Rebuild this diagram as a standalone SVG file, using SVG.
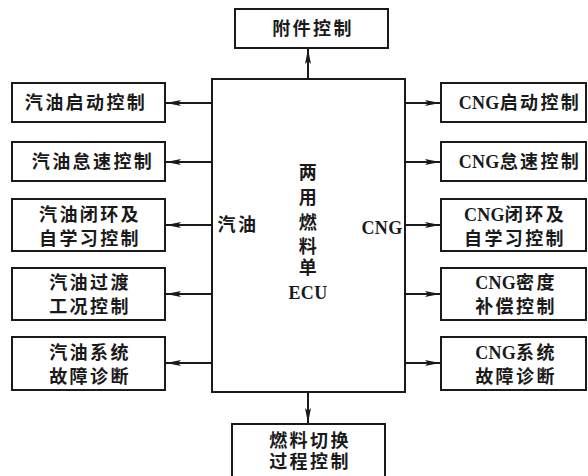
<svg xmlns="http://www.w3.org/2000/svg" width="588" height="476" viewBox="0 0 588 476">
<style>
.box{fill:#fff;stroke:#1a1a1a;stroke-width:2}
.ln{fill:none;stroke:#1a1a1a;stroke-width:2}
text{font-family:"Liberation Serif","Noto Sans CJK SC",serif;font-size:18px;font-weight:bold;fill:#1a1a1a;text-anchor:middle;letter-spacing:2.4px}
.lat{letter-spacing:0.3px}
</style>
<defs>
<marker id="ah" markerWidth="16" markerHeight="8" refX="15" refY="4" orient="auto" markerUnits="userSpaceOnUse">
<path d="M0,1 L15,4 L0,7 L3,4 Z" fill="#1a1a1a"/>
</marker>
</defs>
<g id="connectors">
<line class="ln" x1="308" y1="79" x2="308" y2="49" marker-end="url(#ah)"/>
<line class="ln" x1="308" y1="392" x2="308" y2="423" marker-end="url(#ah)"/>
<line class="ln" x1="212" y1="103" x2="166" y2="103" marker-end="url(#ah)"/>
<line class="ln" x1="212" y1="162" x2="166" y2="162" marker-end="url(#ah)"/>
<line class="ln" x1="212" y1="225" x2="166" y2="225" marker-end="url(#ah)"/>
<line class="ln" x1="212" y1="294" x2="166" y2="294" marker-end="url(#ah)"/>
<line class="ln" x1="212" y1="363" x2="166" y2="363" marker-end="url(#ah)"/>
<line class="ln" x1="405" y1="103" x2="440" y2="103" marker-end="url(#ah)"/>
<line class="ln" x1="405" y1="162" x2="440" y2="162" marker-end="url(#ah)"/>
<line class="ln" x1="405" y1="225" x2="440" y2="225" marker-end="url(#ah)"/>
<line class="ln" x1="405" y1="294" x2="440" y2="294" marker-end="url(#ah)"/>
<line class="ln" x1="405" y1="363" x2="440" y2="363" marker-end="url(#ah)"/>
</g>
<g id="ecu">
<rect class="box" x="212" y="79" width="193" height="313"/>
<text x="309" y="179">两</text>
<text x="309" y="204">用</text>
<text x="309" y="229">燃</text>
<text x="309" y="253">料</text>
<text x="309" y="274">单</text>
<text x="308" y="299" class="lat">ECU</text>
<text x="238" y="231">汽油</text>
<text x="382" y="234" class="lat">CNG</text>
</g>
<g id="fujian">
<rect class="box" x="235" y="9" width="153" height="39"/>
<text x="313" y="35">附件控制</text>
</g>
<g id="qiehuan">
<rect class="box" x="232" y="424" width="153" height="60"/>
<text x="310" y="447">燃料切换</text>
<text x="310" y="468">过程控制</text>
</g>
<g id="g1">
<rect class="box" x="12" y="83" width="153" height="39"/>
<text x="86" y="109">汽油启动控制</text>
</g>
<g id="g2">
<rect class="box" x="12" y="142" width="153" height="39"/>
<text x="93" y="168">汽油怠速控制</text>
</g>
<g id="g3">
<rect class="box" x="12" y="199" width="153" height="52"/>
<text x="90" y="221">汽油闭环及</text>
<text x="90" y="245">自学习控制</text>
</g>
<g id="g4">
<rect class="box" x="12" y="268" width="153" height="52"/>
<text x="90" y="289">汽油过渡</text>
<text x="90" y="313">工况控制</text>
</g>
<g id="g5">
<rect class="box" x="12" y="337" width="153" height="53"/>
<text x="90" y="359">汽油系统</text>
<text x="90" y="383">故障诊断</text>
</g>
<g id="c1">
<rect class="box" x="441" y="83" width="145" height="39"/>
<text x="520" y="109"><tspan class="lat">CNG</tspan>启动控制</text>
</g>
<g id="c2">
<rect class="box" x="441" y="142" width="145" height="39"/>
<text x="520" y="168"><tspan class="lat">CNG</tspan>怠速控制</text>
</g>
<g id="c3">
<rect class="box" x="441" y="199" width="145" height="52"/>
<text x="515" y="221"><tspan class="lat">CNG</tspan>闭环及</text>
<text x="515" y="245">自学习控制</text>
</g>
<g id="c4">
<rect class="box" x="441" y="268" width="145" height="52"/>
<text x="516" y="289"><tspan class="lat">CNG</tspan>密度</text>
<text x="516" y="313">补偿控制</text>
</g>
<g id="c5">
<rect class="box" x="441" y="337" width="145" height="53"/>
<text x="516" y="359"><tspan class="lat">CNG</tspan>系统</text>
<text x="516" y="383">故障诊断</text>
</g>
</svg>
